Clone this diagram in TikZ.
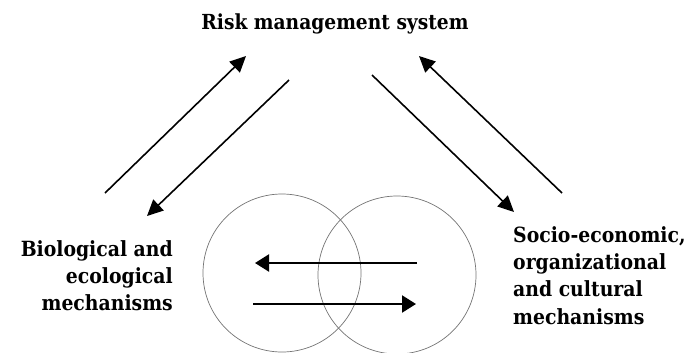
\documentclass[tikz,border=0pt]{standalone}
\usepackage{fontspec}
\setmainfont{DejaVu Serif Condensed}
\usetikzlibrary{arrows.meta}
\tikzset{
  pfeil/.style={-{Triangle[length=16bp,width=15bp]}, line width=1.6bp},
  querpfeil/.style={-{Triangle[length=14bp,width=17bp]}, line width=2.2bp},
  kreis/.style={draw=black!55, line width=0.7bp},
  titel/.style={font=\bfseries\fontsize{20.8}{24}\selectfont},
  seite/.style={font=\bfseries\fontsize{21}{27.5}\selectfont, inner sep=0pt}
}
\begin{document}
\begin{tikzpicture}[x=1bp, y=-1bp]
\useasboundingbox (0,0) rectangle (698,352);
% Texte
\node[titel, anchor=base] (rms) at (335,29) {Risk management system};
\node[seite, align=right, anchor=north east] (bio) at (173,240) {Biological and\\ecological\\mechanisms};
\node[seite, align=left, anchor=north west] (soz) at (513,226) {Socio-economic,\\organizational\\and cultural\\mechanisms};
% Kreise
\draw[kreis] (282,273) circle (79) coordinate (kl);
\draw[kreis] (397,275) circle (79) coordinate (kr);
% Pfeile links
\coordinate (a1) at (105,193); \coordinate (a2) at (246,56);
\coordinate (b1) at (289,80);  \coordinate (b2) at (147,216);
\draw[pfeil] (a1) -- (a2);
\draw[pfeil] (b1) -- (b2);
% Pfeile rechts
\coordinate (c1) at (372,75);  \coordinate (c2) at (514,212);
\coordinate (d1) at (562,193); \coordinate (d2) at (419,56);
\draw[pfeil] (c1) -- (c2);
\draw[pfeil] (d1) -- (d2);
% Pfeile zwischen den Kreisen
\coordinate (e1) at (417,263); \coordinate (e2) at (255,263);
\coordinate (f1) at (253,304); \coordinate (f2) at (416,304);
\draw[querpfeil] (e1) -- (e2);
\draw[querpfeil] (f1) -- (f2);
\end{tikzpicture}
\end{document}
